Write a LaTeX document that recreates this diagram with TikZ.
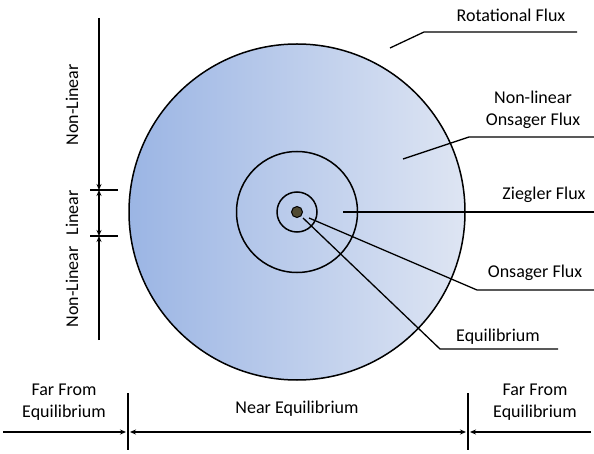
\documentclass[tikz,border=0pt]{standalone}
\usepackage{fontspec}
\setmainfont{Carlito}
\usetikzlibrary{arrows.meta}
\definecolor{gleft}{RGB}{155,181,228}
\definecolor{gright}{RGB}{222,229,243}
\definecolor{dotc}{RGB}{80,74,50}
\tikzset{
  lbl/.style={font=\fontsize{18}{22}\selectfont, align=center, inner sep=0pt},
  ring/.style={circle, draw=black, line width=1.5pt, inner sep=0pt},
  leader/.style={draw=black, line width=1.3pt},
  tick/.style={draw=black, line width=2pt},
  bar/.style={draw=black, line width=2.5pt},
  arr/.style={draw=black, line width=1.2pt, -{Stealth[length=6pt,width=5pt]}},
  darr/.style={draw=black, line width=1.2pt, {Stealth[length=6pt,width=5pt]}-{Stealth[length=6pt,width=5pt]}},
}
\begin{document}
\begin{tikzpicture}[x=1pt,y=-1pt]
\useasboundingbox (0,0) rectangle (594,454);
% circles
\node[ring, minimum size=336pt, left color=gleft, right color=gright, shading=axis] (big) at (297,212) {};
\node[ring, minimum size=121pt] (mid) at (297,212) {};
\node[ring, minimum size=40pt] (small) at (297,212) {};
\node[circle, draw=black, line width=1pt, fill=dotc, minimum size=11pt, inner sep=0pt] (dot) at (297,212) {};
% labels right
\node[lbl] (rot) at (511,15) {Rotational Flux};
\node[lbl] (nlo) at (533,110) {Non-linear\\Onsager Flux};
\node[lbl] (zie) at (544,195) {Ziegler Flux};
\node[lbl] (ons) at (535,273) {Onsager Flux};
\node[lbl] (equ) at (498,337) {Equilibrium};
% leader coordinates
\coordinate (r1) at (390,48); \coordinate (r2) at (424,32); \coordinate (r3) at (577,32);
\coordinate (n1) at (403,159); \coordinate (n2) at (469,137); \coordinate (n3) at (594,137);
\coordinate (z1) at (343,212); \coordinate (z3) at (594,212);
\coordinate (o1) at (309,218); \coordinate (o2) at (477,290); \coordinate (o3) at (594,290);
\coordinate (e1) at (303,218); \coordinate (e2) at (440,349); \coordinate (e3) at (558,349);
\draw[leader] (r1) -- (r2) -- (r3);
\draw[leader] (n1) -- (n2) -- (n3);
\draw[leader] (z1) -- (z3);
\draw[leader] (o1) -- (o2) -- (o3);
\draw[leader] (e1) -- (e2) -- (e3);
% left scale
\node[lbl, rotate=90] (nl1) at (72,105) {Non-Linear};
\node[lbl, rotate=90] (lin) at (72,213) {Linear};
\node[lbl, rotate=90] (nl2) at (72,287) {Non-Linear};
\coordinate (vt) at (99,18); \coordinate (v1) at (99,190); \coordinate (v2) at (99,236); \coordinate (vb) at (99,340);
\coordinate (t1a) at (90,190); \coordinate (t1b) at (118,190);
\coordinate (t2a) at (90,236); \coordinate (t2b) at (118,236);
\draw[arr] (vt) -- (v1);
\draw[darr] (v1) -- (v2);
\draw[arr] (vb) -- (v2);
\draw[tick] (t1a) -- (t1b);
\draw[tick] (t2a) -- (t2b);
% bottom scale
\node[lbl] (ffl) at (64,402) {Far From\\Equilibrium};
\node[lbl] (near) at (297,409) {Near Equilibrium};
\node[lbl] (ffr) at (535,402) {Far From\\Equilibrium};
\coordinate (h0) at (3,432); \coordinate (h1) at (128,432); \coordinate (h2) at (468,432); \coordinate (h3) at (591,432);
\coordinate (b1t) at (128,393); \coordinate (b1b) at (128,450);
\coordinate (b2t) at (468,393); \coordinate (b2b) at (468,450);
\draw[arr] (h0) -- ([xshift=-2pt]h1);
\draw[darr] ([xshift=2pt]h1) -- ([xshift=-2pt]h2);
\draw[arr] (h3) -- ([xshift=2pt]h2);
\draw[bar] (b1t) -- (b1b);
\draw[bar] (b2t) -- (b2b);
\end{tikzpicture}
\end{document}
